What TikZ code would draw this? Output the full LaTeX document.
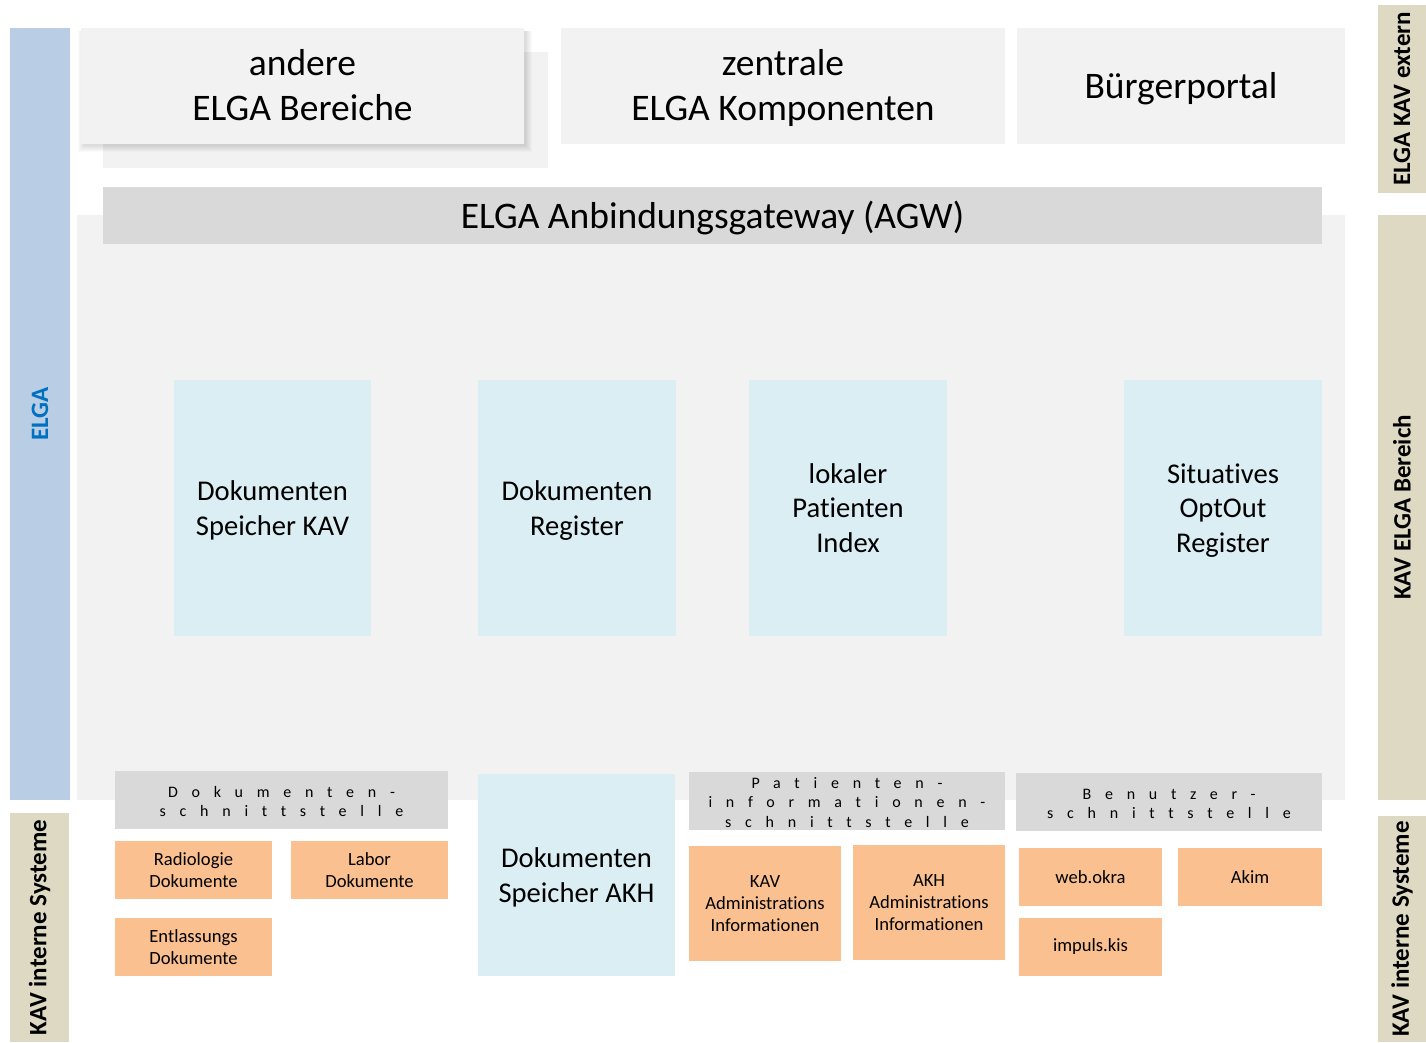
\documentclass[tikz,border=0pt]{standalone}
\usepackage{fontspec}
\setmainfont[Ligatures=NoCommon]{Carlito}
\newfontfamily\spacedfont[LetterSpace=86,Ligatures=NoCommon]{Carlito}
\definecolor{barblue}{HTML}{B9CDE5}
\definecolor{bartan}{HTML}{DDD9C3}
\definecolor{ltgray}{HTML}{F2F2F2}
\definecolor{midgray}{HTML}{D9D9D9}
\definecolor{ltblue}{HTML}{DAEEF3}
\definecolor{orng}{HTML}{FAC090}
\definecolor{elgatxt}{HTML}{0070C0}
\newcommand{\rbox}[7]{\node[#6, anchor=north west, minimum width={(#4-#2)*1pt}, minimum height={(#5-#3)*1pt}] (#1) at (#2,#3) {#7};}
\begin{document}
\begin{tikzpicture}[x=1pt,y=-1pt,
  every node/.style={inner sep=0pt, outer sep=0pt, align=center, text=black},
  bigtxt/.style={font=\fontsize{37.5}{45}\selectfont, text depth=2pt},
  midtxt/.style={font=\fontsize{28.6}{34.5}\selectfont, text depth=0pt},
  smalltxt/.style={font=\fontsize{18.6}{22.3}\selectfont},
  iftxt/.style={font=\spacedfont\fontsize{16}{19.5}\selectfont},
  sidelbl/.style={rotate=90, font=\bfseries\fontsize{25}{28}\selectfont},
  topbox/.style={fill=ltgray, bigtxt},
  bluebox/.style={fill=ltblue, midtxt},
  orbox/.style={fill=orng, smalltxt},
  ifbox/.style={fill=midgray, iftxt},
  softshadow/.style={fill=black, opacity=0.02},
]
\useasboundingbox[fill=white] (0,0) rectangle (1426,1042);
% side bars
\rbox{elga}{10}{28}{70}{800}{fill=barblue}{}
\rbox{kavl}{10}{813}{69}{1042}{fill=bartan}{}
\rbox{rext}{1378}{5}{1426}{193}{fill=bartan}{}
\rbox{rber}{1378}{215}{1426}{800}{fill=bartan}{}
\rbox{rint}{1378}{816}{1426}{1042}{fill=bartan}{}
\node[sidelbl, text=elgatxt] (elgalbl) at (elga.center) {ELGA};
\node[sidelbl] (kavllbl) at (kavl.center) {KAV interne Systeme};
\node[sidelbl] (rextlbl) at (rext.center) {ELGA KAV extern};
\node[sidelbl] (rberlbl) at (rber.center) {KAV ELGA Bereich};
\node[sidelbl] (rintlbl) at (rint.center) {KAV interne Systeme};
% backgrounds
\rbox{bg}{77}{215}{1345}{800}{fill=ltgray}{}
\rbox{behind}{103}{52}{548}{168}{fill=ltgray}{}
% soft shadow of the top-left box
\foreach \k in {1,...,7}{
  \fill[softshadow] (85-\k,31) rectangle (525+\k,145+\k);
}
% top boxes
\rbox{andere}{81}{28}{524}{144}{topbox}{andere\\ELGA Bereiche}
\rbox{zentrale}{561}{28}{1005}{144}{topbox}{zentrale\\ELGA Komponenten}
\rbox{buerger}{1017}{28}{1345}{144}{topbox}{Bürgerportal}
\rbox{agw}{103}{187}{1322}{244}{fill=midgray, bigtxt}{ELGA Anbindungsgateway (AGW)}
% blue boxes
\rbox{spk}{174}{380}{371}{636}{bluebox}{Dokumenten\\Speicher KAV}
\rbox{reg}{478}{380}{676}{636}{bluebox}{Dokumenten\\Register}
\rbox{lpi}{749}{380}{947}{636}{bluebox}{lokaler\\Patienten\\Index}
\rbox{opt}{1124}{380}{1322}{636}{bluebox}{Situatives\\OptOut\\Register}
\rbox{akh}{478}{774}{675}{976}{bluebox}{Dokumenten\\Speicher AKH}
% interfaces
\rbox{dif}{115}{771}{448}{829}{ifbox}{\rule{0pt}{14pt}Dokumenten-\\schnittstelle}
\rbox{pif}{689}{772}{1005}{830}{ifbox}{\rule{0pt}{14pt}Patienten-\\informationen-\\schnittstelle}
\rbox{bif}{1016}{773}{1322}{831}{ifbox}{\rule{0pt}{14pt}Benutzer-\\schnittstelle}
% orange boxes
\rbox{rad}{115}{841}{272}{899}{orbox}{Radiologie\\Dokumente}
\rbox{lab}{291}{841}{448}{899}{orbox}{Labor\\Dokumente}
\rbox{ent}{115}{918}{272}{976}{orbox}{Entlassungs\\Dokumente}
\rbox{kava}{689}{846}{841}{961}{orbox}{KAV\\Administrations\\Informationen}
\rbox{akha}{853}{845}{1005}{960}{orbox}{AKH\\Administrations\\Informationen}
\rbox{web}{1019}{848}{1162}{906}{orbox}{web.okra}
\rbox{akim}{1178}{848}{1322}{906}{orbox}{Akim}
\rbox{imp}{1019}{918}{1162}{976}{orbox}{impuls.kis}
\end{tikzpicture}
\end{document}
